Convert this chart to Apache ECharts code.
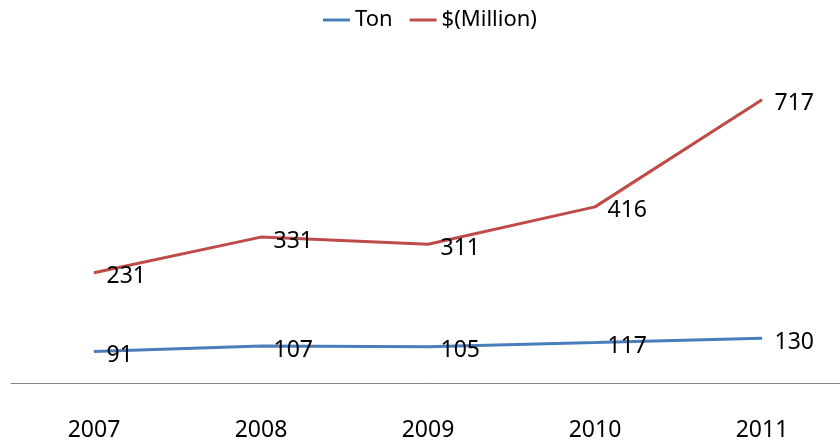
<!DOCTYPE html>
<html>
<head>
<meta charset="utf-8">
<script src="https://cdn.jsdelivr.net/npm/echarts@6/dist/echarts.min.js"></script>
<style>html,body{margin:0;padding:0;background:#fff}#c{width:840px;height:446px}</style>
</head>
<body>
<div id="c"></div>
<script>
var categories = ['2007', '2008', '2009', '2010', '2011'];
var tonValues = [91, 107, 105, 117, 130];
var millionValues = [231, 331, 311, 416, 717];
var seriesNames = ['Ton', '$(Million)'];

var FONT = '"Noto Sans", sans-serif';
var chart = echarts.init(document.getElementById('c'));
function lbl() {
  return { show: true, position: 'right', distance: 5, offset: [7, 4], color: '#000', fontSize: 23, fontFamily: FONT };
}
chart.setOption({
  animation: false,
  backgroundColor: '#fff',
  legend: {
    top: 4, left: 318,
    icon: 'rect', itemWidth: 27, itemHeight: 3, itemGap: 17,
    textStyle: { fontSize: 22, color: '#000', fontFamily: FONT, padding: [4, 0, 0, 0] },
    data: seriesNames
  },
  grid: [
    { left: 94, right: 78, top: 61, bottom: 63, containLabel: false },
    { left: 11, right: 0, top: 61, bottom: 63, containLabel: false }
  ],
  xAxis: [
    { type: 'category', gridIndex: 0, data: categories, boundaryGap: false,
      axisLine: { show: false },
      axisTick: { show: false },
      axisLabel: { color: '#000', fontSize: 23, fontFamily: FONT, margin: 36 } },
    { type: 'category', gridIndex: 1, data: [''], boundaryGap: true,
      axisLine: { show: true, lineStyle: { color: '#868686', width: 1 } },
      axisTick: { show: false }, axisLabel: { show: false } }
  ],
  yAxis: [
    { type: 'value', gridIndex: 0, min: 0, max: 933, show: false, splitLine: { show: false } },
    { type: 'value', gridIndex: 0, min: -79, max: 826, show: false, splitLine: { show: false } },
    { type: 'value', gridIndex: 1, min: 0, max: 1, show: false, splitLine: { show: false } }
  ],
  series: [
    { name: seriesNames[0], type: 'line', xAxisIndex: 0, yAxisIndex: 0, data: tonValues,
      symbol: 'circle', symbolSize: 1, color: '#4A7EBB',
      lineStyle: { width: 3, color: '#4A7EBB' }, label: lbl() },
    { name: seriesNames[1], type: 'line', xAxisIndex: 0, yAxisIndex: 1, data: millionValues,
      symbol: 'circle', symbolSize: 1, color: '#BE4B48',
      lineStyle: { width: 3, color: '#BE4B48' }, label: lbl() }
  ]
});
</script>
</body>
</html>
